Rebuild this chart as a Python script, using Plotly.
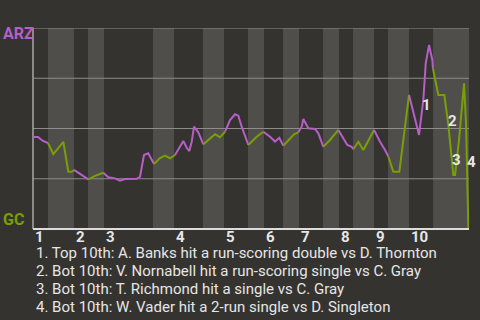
import plotly.graph_objects as go

# ---------------- data ----------------
innings = ["1", "2", "3", "4", "5", "6", "7", "8", "9", "10"]
# start of each half-inning (top, bottom, top, bottom ...) in plate-appearance units
half_starts = [0, 3.10, 8.46, 11.35, 14.66, 24.77, 29.11, 35.09, 39.43, 44.38,
               47.69, 51.61, 54.91, 59.87, 63.17, 66.06, 70.40, 73.29, 77.62, 82.58]
game_end = 90

pa = [0, 1.03, 2.06, 3.10, 4.19, 6.26, 7.29, 7.99, 8.46, 9.35,
      10.38, 11.42, 12.80, 14.51, 15.55, 16.93, 17.96, 18.99, 21.41, 22.09,
      22.91, 23.80, 24.98, 26.22, 27.25, 28.28, 29.32, 30.35, 31.03, 31.73,
      32.27, 32.76, 33.24, 34.12, 35.16, 36.54, 37.57, 38.60, 39.64, 40.67,
      41.70, 42.38, 43.08, 44.45, 46.18, 47.54, 48.93, 49.96, 50.85, 51.67,
      53.06, 53.88, 54.77, 55.47, 55.80, 56.83, 58.22, 58.90, 59.93, 61.31,
      63.03, 63.93, 64.88, 65.79, 66.12, 67.16, 68.19, 70.40, 71.63, 72.67,
      73.35, 74.38, 75.62, 76.45, 77.62, 79.69, 80.57, 81.07, 81.75, 82.43,
      82.55, 83.67, 84.91, 85.74, 86.77, 87.12, 87.94, 88.50, 88.98, 89.39,
      89.87]
arz_wp = [45.8, 45.8, 43.8, 42.8, 37.3, 43.4, 28.5, 28.5, 29.4, 28.0,
          26.4, 24.7, 26.4, 28.0, 25.7, 25.2, 24.0, 24.9, 25.0, 26.0,
          36.8, 37.7, 32.3, 35.3, 36.5, 35.2, 36.8, 40.9, 43.8, 40.4,
          38.8, 43.4, 50.9, 48.1, 42.1, 45.1, 47.1, 45.6, 48.4, 54.2,
          57.1, 56.4, 50.9, 41.8, 45.9, 48.4, 45.9, 43.5, 45.4, 41.4,
          45.1, 47.1, 48.1, 50.9, 54.7, 50.1, 49.8, 47.6, 40.9, 44.3,
          49.3, 45.9, 41.8, 40.9, 39.7, 43.4, 39.3, 49.3, 43.4, 39.3,
          36.0, 28.5, 28.5, 44.3, 66.7, 46.8, 64.2, 82.4, 91.5, 84.1,
          80.0, 66.7, 66.7, 51.7, 26.9, 26.9, 44.3, 57.6, 72.5, 52.6,
          0.0]

event_labels = ["1", "2", "3", "4"]
event_x = [81.2, 86.5, 87.5, 90.6]
event_wp = [61.7, 53.7, 34.1, 33.3]
event_texts = [
    "1. Top 10th: A. Banks hit a run-scoring double vs D. Thornton",
    "2. Bot 10th: V. Nornabell hit a run-scoring single vs C. Gray",
    "3. Bot 10th: T. Richmond hit a single vs C. Gray",
    "4. Bot 10th: W. Vader hit a 2-run single vs D. Singleton",
]
away_team, home_team = "ARZ", "GC"

# ---------------- style ----------------
BG = "#35332f"
BAND = "#4f4e4b"
GRID = "#8e8d8a"
PURPLE = "#b75ec8"
GREEN = "#7a9f06"
TEXT = "#e6e6e6"
FONT = "Roboto"

fig = go.Figure()


def half_of(x):
    h = 0
    for i, s in enumerate(half_starts):
        if x >= s:
            h = i
    return h


# group consecutive segments by half-inning parity
runs = []
for i in range(len(pa) - 1):
    mid = (pa[i] + pa[i + 1]) / 2
    parity = half_of(mid) % 2
    if runs and runs[-1][0] == parity:
        runs[-1][1].append(i + 1)
    else:
        runs.append([parity, [i, i + 1]])

for parity, idx in runs:
    fig.add_trace(go.Scatter(
        x=[pa[k] for k in idx], y=[arz_wp[k] for k in idx],
        mode="lines", line=dict(color=GREEN if parity else PURPLE, width=2),
        hoverinfo="skip", showlegend=False, cliponaxis=False))

shapes = []
# bottom-half bands
for i in range(1, len(half_starts), 2):
    x1 = half_starts[i + 1] if i + 1 < len(half_starts) else game_end
    shapes.append(dict(type="rect", xref="x", yref="paper", x0=half_starts[i], x1=x1,
                       y0=0, y1=1, fillcolor=BAND, line=dict(width=0), layer="below"))
# grid lines
for g in [25, 50, 75, 100]:
    shapes.append(dict(type="line", xref="paper", yref="y", x0=0, x1=1, y0=g, y1=g,
                       line=dict(color=GRID, width=1), layer="below"))
# axes lines
shapes.append(dict(type="line", xref="paper", yref="paper", x0=0, x1=0, y0=0, y1=1,
                   line=dict(color="#a9a8a5", width=1.5), layer="below"))
shapes.append(dict(type="line", xref="paper", yref="paper", x0=0, x1=1, y0=0, y1=0,
                   line=dict(color="#dcdcdc", width=2), layer="above"))

annotations = []
# team labels
annotations.append(dict(text="<b>%s</b>" % away_team, xref="paper", yref="paper",
                        x=0, y=1, xanchor="left", yanchor="middle", xshift=-32, yshift=-5,
                        showarrow=False, font=dict(family=FONT, size=16, color=PURPLE)))
annotations.append(dict(text="<b>%s</b>" % home_team, xref="paper", yref="paper",
                        x=0, y=0, xanchor="left", yanchor="middle", xshift=-32, yshift=10,
                        showarrow=False, font=dict(family=FONT, size=16, color=GREEN)))
# inning labels
for k, name in enumerate(innings):
    annotations.append(dict(text="<b>%s</b>" % name, xref="x", yref="paper",
                            x=half_starts[2 * k], y=0, xanchor="left", yanchor="middle",
                            yshift=-8, showarrow=False,
                            font=dict(family=FONT, size=15, color=TEXT)))
# event markers (paper-x so labels just past the plot edge stay visible)
for lab, ex, ey in zip(event_labels, event_x, event_wp):
    annotations.append(dict(text="<b>%s</b>" % lab, xref="paper", yref="y",
                            x=ex / game_end, y=ey,
                            xanchor="center", yanchor="middle", showarrow=False,
                            font=dict(family=FONT, size=15, color=TEXT)))
# event descriptions
for k, t in enumerate(event_texts):
    annotations.append(dict(text=t, xref="paper", yref="paper", x=0, y=0,
                            xanchor="left", yanchor="middle", xshift=1, yshift=-24 - 18 * k,
                            showarrow=False, align="left",
                            font=dict(family=FONT, size=15, color=TEXT)))

fig.update_layout(
    width=480, height=320, autosize=False,
    margin=dict(l=33, r=11, t=28, b=91, pad=0),
    paper_bgcolor=BG, plot_bgcolor=BG,
    xaxis=dict(range=[0, game_end], showgrid=False, zeroline=False, showticklabels=False,
               showline=False, fixedrange=True),
    yaxis=dict(range=[0, 100], showgrid=False, zeroline=False, showticklabels=False,
               showline=False, fixedrange=True),
    shapes=shapes, annotations=annotations, showlegend=False,
)

fig.write_html("out.html", config={"displayModeBar": False})
